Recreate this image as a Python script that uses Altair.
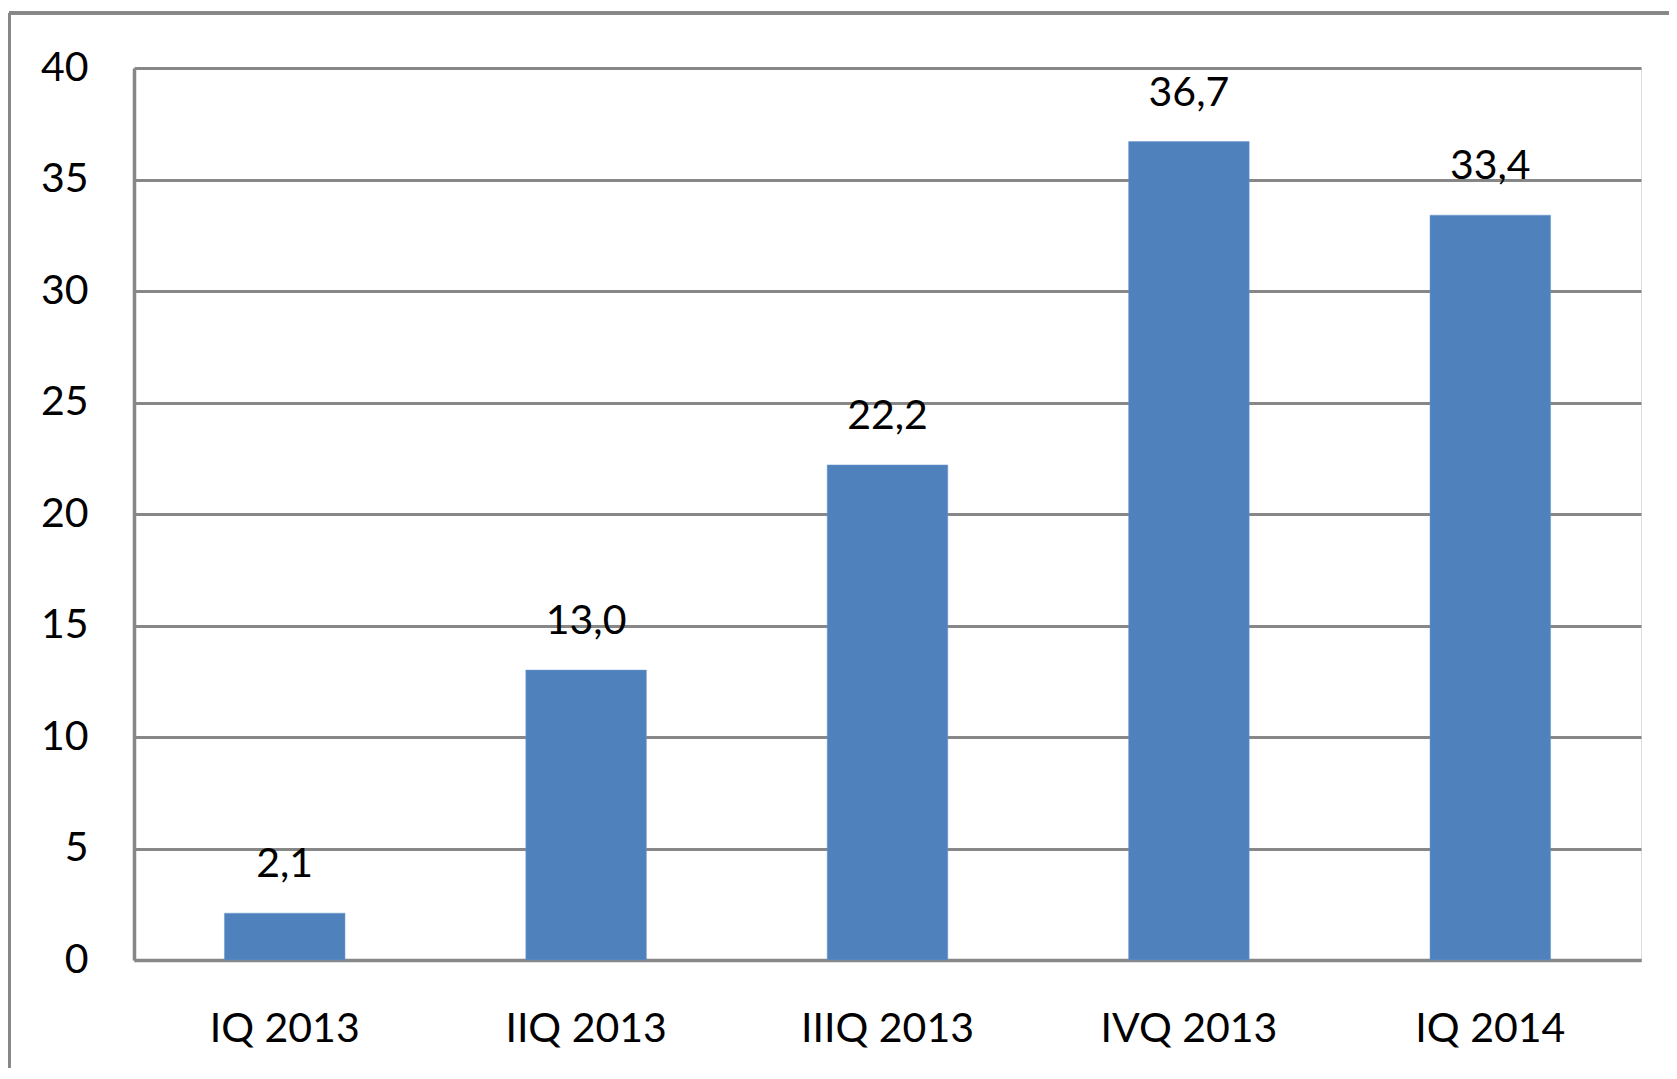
import altair as alt
import pandas as pd

categories = ["IQ 2013", "IIQ 2013", "IIIQ 2013", "IVQ 2013", "IQ 2014"]
values = [2.1, 13.0, 22.2, 36.7, 33.4]
y_ticks = [0, 5, 10, 15, 20, 25, 30, 35, 40]

df = pd.DataFrame({"cat": categories, "val": values})

FONT = "Lato"
GRAY = "#878787"
BLUE = "#4F81BD"

x_enc = alt.X("cat:N", sort=categories, title=None,
              scale=alt.Scale(paddingInner=0.6, paddingOuter=0.3),
              axis=alt.Axis(labelAngle=0, labelFont=FONT, labelFontSize=41,
                            labelColor="#000000", labelPadding=49, ticks=False,
                            domainColor=GRAY, domainWidth=3.5, grid=False))
y_enc = alt.Y("val:Q", title=None,
              scale=alt.Scale(domain=[0, 40], nice=False, zero=True),
              axis=alt.Axis(values=y_ticks, labelFont=FONT, labelFontSize=41,
                            labelColor="#000000", labelPadding=46, ticks=False,
                            domainColor=GRAY, domainWidth=3.5,
                            gridColor=GRAY, gridWidth=3, gridOpacity=1))

bars = alt.Chart(df).mark_bar(color=BLUE, stroke="#6f98cc", strokeWidth=0.5).encode(
    x=x_enc, y=y_enc)

labels = alt.Chart(df).transform_calculate(
    lbl="replace(format(datum.val, '.1f'), '.', ',')"
).mark_text(font=FONT, fontSize=41, color="#000000", baseline="alphabetic", dy=-36).encode(
    x=alt.X("cat:N", sort=categories), y=alt.Y("val:Q"), text="lbl:N")

frame_left = alt.Chart(df).mark_rule(color=GRAY, strokeWidth=3).encode(
    x=alt.value(-125), y=alt.value(-55), y2=alt.value(1200))
frame_top = alt.Chart(df).mark_rule(color=GRAY, strokeWidth=3).encode(
    x=alt.value(-125), x2=alt.value(1700), y=alt.value(-55))

chart = alt.layer(bars, labels, frame_left, frame_top).properties(
    width=1507, height=892,
    autosize=alt.AutoSizeParams(type="none"),
    padding={"left": 126, "top": 60, "right": 28, "bottom": 108},
).configure_view(stroke=None).configure(background="white")

chart.save("out.html", embed_options={"renderer": "svg", "actions": False})
